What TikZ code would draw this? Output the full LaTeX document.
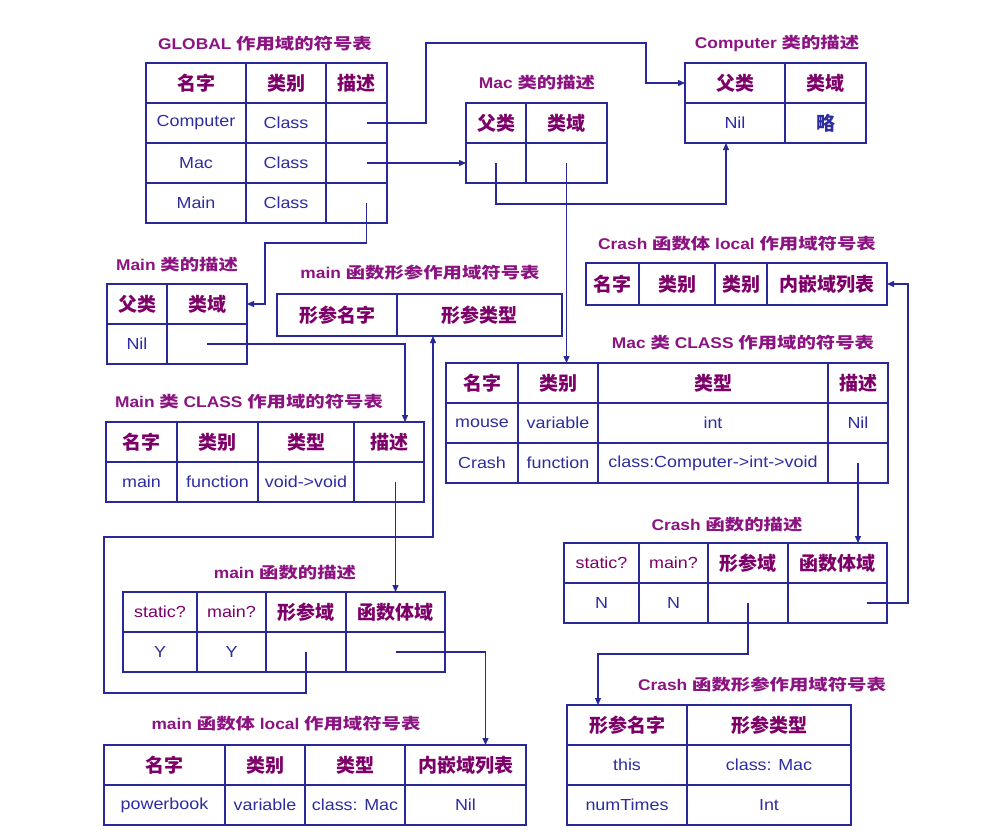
\documentclass[tikz,border=0pt]{standalone}
\usepackage{fontspec}
\setmainfont{Liberation Sans}[FakeStretch=1.12]
\newfontfamily\cjk{Noto Sans CJK SC}
\newfontfamily\cjkwide{Noto Sans CJK SC}[FakeStretch=1.25]
\usepackage{xcolor}
\usepackage{tikz}
\usetikzlibrary{arrows.meta, positioning}
\definecolor{linec}{RGB}{40,40,150}
\definecolor{headc}{RGB}{125,0,105}
\definecolor{bodyc}{RGB}{45,45,160}
\definecolor{titlec}{RGB}{140,20,130}
\tikzset{
  cell/.style={draw=linec, line width=1.5pt, minimum width=#1, minimum height=40pt,
               inner sep=0pt, outer sep=0pt},
  hd/.style={font=\cjk\bfseries\fontsize{19}{21}\selectfont, text=headc},
  hdl/.style={font=\fontsize{16}{18}\selectfont, text=headc},
  bd/.style={font=\fontsize{16}{18}\selectfont, text=bodyc},
  bdc/.style={font=\cjk\bfseries\fontsize{19}{21}\selectfont, text=bodyc},
  ttl/.style={font=\bfseries\fontsize{15.5}{18}\selectfont, text=titlec, inner sep=0pt},
  link/.style={draw=linec, line width=1.3pt, -{Triangle[length=7pt,width=6pt]}}
}

\begin{document}
\begin{tikzpicture}[x=1pt, y=-1pt]
  \useasboundingbox[fill=white] (0,0) rectangle (1001,839);

  % titles
  \node[ttl] (gl-t) at (265,44) {GLOBAL {\cjkwide 作用域的符号表}};
  \node[ttl] (macd-t) at (537,83) {Mac {\cjkwide 类的描述}};
  \node[ttl] (compd-t) at (777,43) {Computer {\cjkwide 类的描述}};
  \node[ttl] (maind-t) at (177,265) {Main {\cjkwide 类的描述}};
  \node[ttl] (mainp-t) at (420,273) {main {\cjkwide 函数形参作用域符号表}};
  \node[ttl] (maincl-t) at (249,402) {Main {\cjkwide 类} CLASS {\cjkwide 作用域的符号表}};
  \node[ttl] (crl-t) at (737,244) {Crash {\cjkwide 函数体} local {\cjkwide 作用域符号表}};
  \node[ttl] (maccl-t) at (743,343) {Mac {\cjkwide 类} CLASS {\cjkwide 作用域的符号表}};
  \node[ttl] (mainf-t) at (285,573) {main {\cjkwide 函数的描述}};
  \node[ttl] (mainl-t) at (286,724) {main {\cjkwide 函数体} local {\cjkwide 作用域符号表}};
  \node[ttl] (crf-t) at (727,525) {Crash {\cjkwide 函数的描述}};
  \node[ttl] (crp-t) at (762,685) {Crash {\cjkwide 函数形参作用域符号表}};

  % GLOBAL table
  \node[cell=100, hd, anchor=north west] (gl00) at (146,63) {名字};
  \node[cell=80, hd, right=0pt of gl00] (gl01) {类别};
  \node[cell=61, hd, right=0pt of gl01] (gl02) {描述};
  \node[cell=100, bd, below=0pt of gl00] (gl10) {Computer};
  \node[cell=80, bd, right=0pt of gl10] (gl11) {Class};
  \node[cell=61, right=0pt of gl11] (gl12) {};
  \node[cell=100, bd, below=0pt of gl10] (gl20) {Mac};
  \node[cell=80, bd, right=0pt of gl20] (gl21) {Class};
  \node[cell=61, right=0pt of gl21] (gl22) {};
  \node[cell=100, bd, below=0pt of gl20] (gl30) {Main};
  \node[cell=80, bd, right=0pt of gl30] (gl31) {Class};
  \node[cell=61, right=0pt of gl31] (gl32) {};

  % Mac class description
  \node[cell=60, hd, anchor=north west] (macd00) at (466,103) {父类};
  \node[cell=81, hd, right=0pt of macd00] (macd01) {类域};
  \node[cell=60, below=0pt of macd00] (macd10) {};
  \node[cell=81, right=0pt of macd10] (macd11) {};

  % Computer class description
  \node[cell=100, hd, anchor=north west] (compd00) at (685,63) {父类};
  \node[cell=81, hd, right=0pt of compd00] (compd01) {类域};
  \node[cell=100, bd, below=0pt of compd00] (compd10) {Nil};
  \node[cell=81, bdc, right=0pt of compd10] (compd11) {略};

  % Main class description
  \node[cell=60, hd, anchor=north west] (maind00) at (107,284) {父类};
  \node[cell=80, hd, right=0pt of maind00] (maind01) {类域};
  \node[cell=60, bd, below=0pt of maind00] (maind10) {Nil};
  \node[cell=80, right=0pt of maind10] (maind11) {};

  % main parameter table
  \node[cell=120, hd, minimum height=42pt, anchor=north west] (mainp00) at (277,294) {形参名字};
  \node[cell=165, hd, minimum height=42pt, right=0pt of mainp00] (mainp01) {形参类型};

  % Main CLASS table
  \tikzset{every node/.append style={minimum height=40.5pt}}
  \node[cell=71, hd, anchor=north west] (maincl00) at (106,422) {名字};
  \node[cell=81, hd, right=0pt of maincl00] (maincl01) {类别};
  \node[cell=96, hd, right=0pt of maincl01] (maincl02) {类型};
  \node[cell=70, hd, right=0pt of maincl02] (maincl03) {描述};
  \node[cell=71, bd, below=0pt of maincl00] (maincl10) {main};
  \node[cell=81, bd, right=0pt of maincl10] (maincl11) {function};
  \node[cell=96, bd, right=0pt of maincl11] (maincl12) {void->void};
  \node[cell=70, right=0pt of maincl12] (maincl13) {};

  % Crash local table
  \node[cell=53, hd, minimum height=42pt, anchor=north west] (crl00) at (586,263) {名字};
  \node[cell=76, hd, minimum height=42pt, right=0pt of crl00] (crl01) {类别};
  \node[cell=52, hd, minimum height=42pt, right=0pt of crl01] (crl02) {类别};
  \node[cell=120, hd, minimum height=42pt, right=0pt of crl02] (crl03) {内嵌域列表};

  % Mac CLASS table
  \node[cell=72, hd, anchor=north west] (maccl00) at (446,363) {名字};
  \node[cell=80, hd, right=0pt of maccl00] (maccl01) {类别};
  \node[cell=230, hd, right=0pt of maccl01] (maccl02) {类型};
  \node[cell=60, hd, right=0pt of maccl02] (maccl03) {描述};
  \node[cell=72, bd, below=0pt of maccl00] (maccl10) {mouse};
  \node[cell=80, bd, right=0pt of maccl10] (maccl11) {variable};
  \node[cell=230, bd, right=0pt of maccl11] (maccl12) {int};
  \node[cell=60, bd, right=0pt of maccl12] (maccl13) {Nil};
  \node[cell=72, bd, below=0pt of maccl10] (maccl20) {Crash};
  \node[cell=80, bd, right=0pt of maccl20] (maccl21) {function};
  \node[cell=230, bd, right=0pt of maccl21] (maccl22) {class:Computer->int->void};
  \node[cell=60, right=0pt of maccl22] (maccl23) {};

  % main function description
  \node[cell=74, hdl, anchor=north west] (mainf00) at (123,592) {static?};
  \node[cell=69, hdl, right=0pt of mainf00] (mainf01) {main?};
  \node[cell=80, hd, right=0pt of mainf01] (mainf02) {形参域};
  \node[cell=99, hd, right=0pt of mainf02] (mainf03) {函数体域};
  \node[cell=74, bd, below=0pt of mainf00] (mainf10) {Y};
  \node[cell=69, bd, right=0pt of mainf10] (mainf11) {Y};
  \node[cell=80, right=0pt of mainf11] (mainf12) {};
  \node[cell=99, right=0pt of mainf12] (mainf13) {};

  % main local table
  \node[cell=121, hd, anchor=north west] (mainl00) at (104,745) {名字};
  \node[cell=80, hd, right=0pt of mainl00] (mainl01) {类别};
  \node[cell=100, hd, right=0pt of mainl01] (mainl02) {类型};
  \node[cell=121, hd, right=0pt of mainl02] (mainl03) {内嵌域列表};
  \node[cell=121, bd, below=0pt of mainl00] (mainl10) {powerbook};
  \node[cell=80, bd, right=0pt of mainl10] (mainl11) {variable};
  \node[cell=100, bd, right=0pt of mainl11] (mainl12) {class: Mac};
  \node[cell=121, bd, right=0pt of mainl12] (mainl13) {Nil};

  % Crash function description
  \node[cell=75, hdl, anchor=north west] (crf00) at (564,543) {static?};
  \node[cell=69, hdl, right=0pt of crf00] (crf01) {main?};
  \node[cell=80, hd, right=0pt of crf01] (crf02) {形参域};
  \node[cell=99, hd, right=0pt of crf02] (crf03) {函数体域};
  \node[cell=75, bd, below=0pt of crf00] (crf10) {N};
  \node[cell=69, bd, right=0pt of crf10] (crf11) {N};
  \node[cell=80, right=0pt of crf11] (crf12) {};
  \node[cell=99, right=0pt of crf12] (crf13) {};

  % Crash parameter table
  \node[cell=120, hd, anchor=north west] (crp00) at (567,705) {形参名字};
  \node[cell=164, hd, right=0pt of crp00] (crp01) {形参类型};
  \node[cell=120, bd, below=0pt of crp00] (crp10) {this};
  \node[cell=164, bd, right=0pt of crp10] (crp11) {class: Mac};
  \node[cell=120, bd, below=0pt of crp10] (crp20) {numTimes};
  \node[cell=164, bd, right=0pt of crp20] (crp21) {Int};

  % links
  \draw[link] ([xshift=10pt]gl12.center) -| (426,43) -- (646,43) |- (compd00.west);
  \draw[link] ([xshift=10pt]gl22.center) -- (macd10.west);
  \draw[link] ([xshift=10pt]gl32.center) |- (265,243) |- (maind01.east);
  \draw[link] (macd10.center) |- (726,204) -- (compd10.south -| 726,0);
  \draw[link] (macd11.center) -- (macd11.center |- maccl01.north);
  \draw[link] (maind11.center) -| ([xshift=16pt]maincl03.north);
  \draw[link] (mainf03.north |- maincl13.center) -- (mainf03.north);
  \draw[link] (mainf12.center) |- (104,693) |- (433,537) -- (mainp01.south -| 433,0);
  \draw[link] (mainf13.center) -| ([xshift=20pt]mainl03.north);
  \draw[link] (maccl23.center) -- (maccl23.center |- crf03.north);
  \draw[link] ([xshift=29pt]crf13.center) -| ([xshift=21pt]crl03.east) -- (crl03.east);
  \draw[link] (crf12.center) |- (598,654) -- (crp00.north -| 598,0);
\end{tikzpicture}
\end{document}
